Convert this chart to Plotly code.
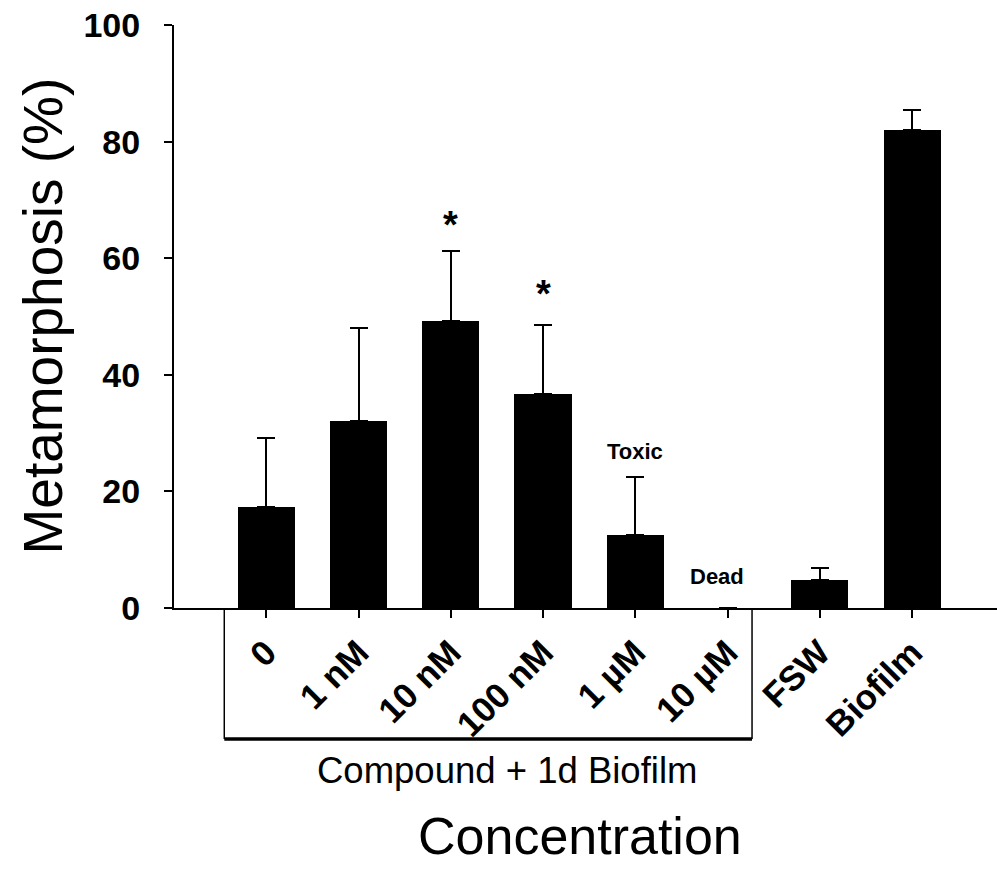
import plotly.graph_objects as go

# ---- data ----
categories = ["0", "1 nM", "10 nM", "100 nM", "1 µM", "10 µM", "FSW", "Biofilm"]
means = [17.3, 32.1, 49.3, 36.7, 12.5, 0.0, 4.8, 82.0]
errors = [11.9, 15.9, 12.0, 11.9, 9.9, float("nan"), 2.0, 3.5]
yticks = [0, 20, 40, 60, 80, 100]

# text annotations: (category index, y value, text, size)
notes_x = [2, 3, 4, 4.89]
notes_y = [65.7, 53.8, 26.9, 5.4]
notes_text = ["*", "*", "Toxic", "Dead"]
notes_size = [38, 38, 22, 22]

FONT = "Liberation Sans, Arial, Helvetica, sans-serif"
W, H = 997, 869
ML, MR, MT, MB = 174, 0, 25, 261
PW, PH = W - ML - MR, H - MT - MB

x = list(range(len(categories)))

fig = go.Figure(
    go.Bar(
        x=x,
        y=means,
        width=0.62,
        marker=dict(color="black", line=dict(color="black", width=0)),
        error_y=dict(
            type="data",
            array=errors,
            arrayminus=[0] * len(errors),
            symmetric=False,
            color="black",
            thickness=2,
            width=9,
        ),
        showlegend=False,
    )
)

annotations = []
for xi, yi, t, s in zip(notes_x, notes_y, notes_text, notes_size):
    annotations.append(
        dict(x=xi, y=yi, xref="x", yref="y", text=t, showarrow=False,
             font=dict(family=FONT, size=s, color="black", weight="bold"),
             xanchor="center", yanchor="middle")
    )

def px_to_paper_x(px):
    return (px - ML) / PW

def px_to_paper_y(py):
    return (H - MB - py) / PH

annotations += [
    dict(x=px_to_paper_x(506.7), y=px_to_paper_y(771), xref="paper", yref="paper",
         text="Compound + 1d Biofilm", showarrow=False,
         font=dict(family=FONT, size=36.5, color="black"),
         xanchor="center", yanchor="middle"),
    dict(x=px_to_paper_x(580), y=px_to_paper_y(836), xref="paper", yref="paper",
         text="Concentration", showarrow=False,
         font=dict(family=FONT, size=52, color="black"),
         xanchor="center", yanchor="middle"),
    dict(x=px_to_paper_x(42), y=0.5, xref="paper", yref="paper",
         text="Metamorphosis (%)", showarrow=False, textangle=-90,
         font=dict(family=FONT, size=55, color="black"),
         xanchor="center", yanchor="middle"),
]

box_bottom = px_to_paper_y(739)
shapes = [
    dict(type="line", xref="x", yref="paper", x0=-0.455, x1=-0.455, y0=0, y1=box_bottom,
         line=dict(color="black", width=1.5)),
    dict(type="line", xref="x", yref="paper", x0=5.265, x1=5.265, y0=0, y1=box_bottom,
         line=dict(color="black", width=1.5)),
    dict(type="line", xref="x", yref="paper", x0=-0.455, x1=5.265, y0=box_bottom, y1=box_bottom,
         line=dict(color="black", width=3.5)),
]

fig.update_layout(
    width=W,
    height=H,
    margin=dict(l=ML, r=MR, t=MT, b=MB, pad=0),
    paper_bgcolor="white",
    plot_bgcolor="white",
    font=dict(family=FONT, color="black"),
    annotations=annotations,
    shapes=shapes,
    bargap=0,
    xaxis=dict(
        range=[-1, 7.92],
        tickmode="array",
        tickvals=x,
        ticktext=categories,
        tickangle=-45,
        ticks="outside",
        ticklen=8,
        tickwidth=1.5,
        tickcolor="black",
        showline=True,
        linecolor="black",
        linewidth=2,
        showgrid=False,
        zeroline=False,
        tickfont=dict(family=FONT, size=35, color="black", weight="bold"),
    ),
    yaxis=dict(
        range=[0, 100],
        tickmode="array",
        tickvals=yticks,
        ticktext=[str(v) for v in yticks],
        ticks="outside",
        ticklen=8,
        tickwidth=2,
        tickcolor="black",
        showline=True,
        linecolor="black",
        linewidth=2,
        showgrid=False,
        zeroline=False,
        ticklabelstandoff=17,
        tickfont=dict(family=FONT, size=34, color="black", weight="bold"),
    ),
)

fig.write_html("out.html")
